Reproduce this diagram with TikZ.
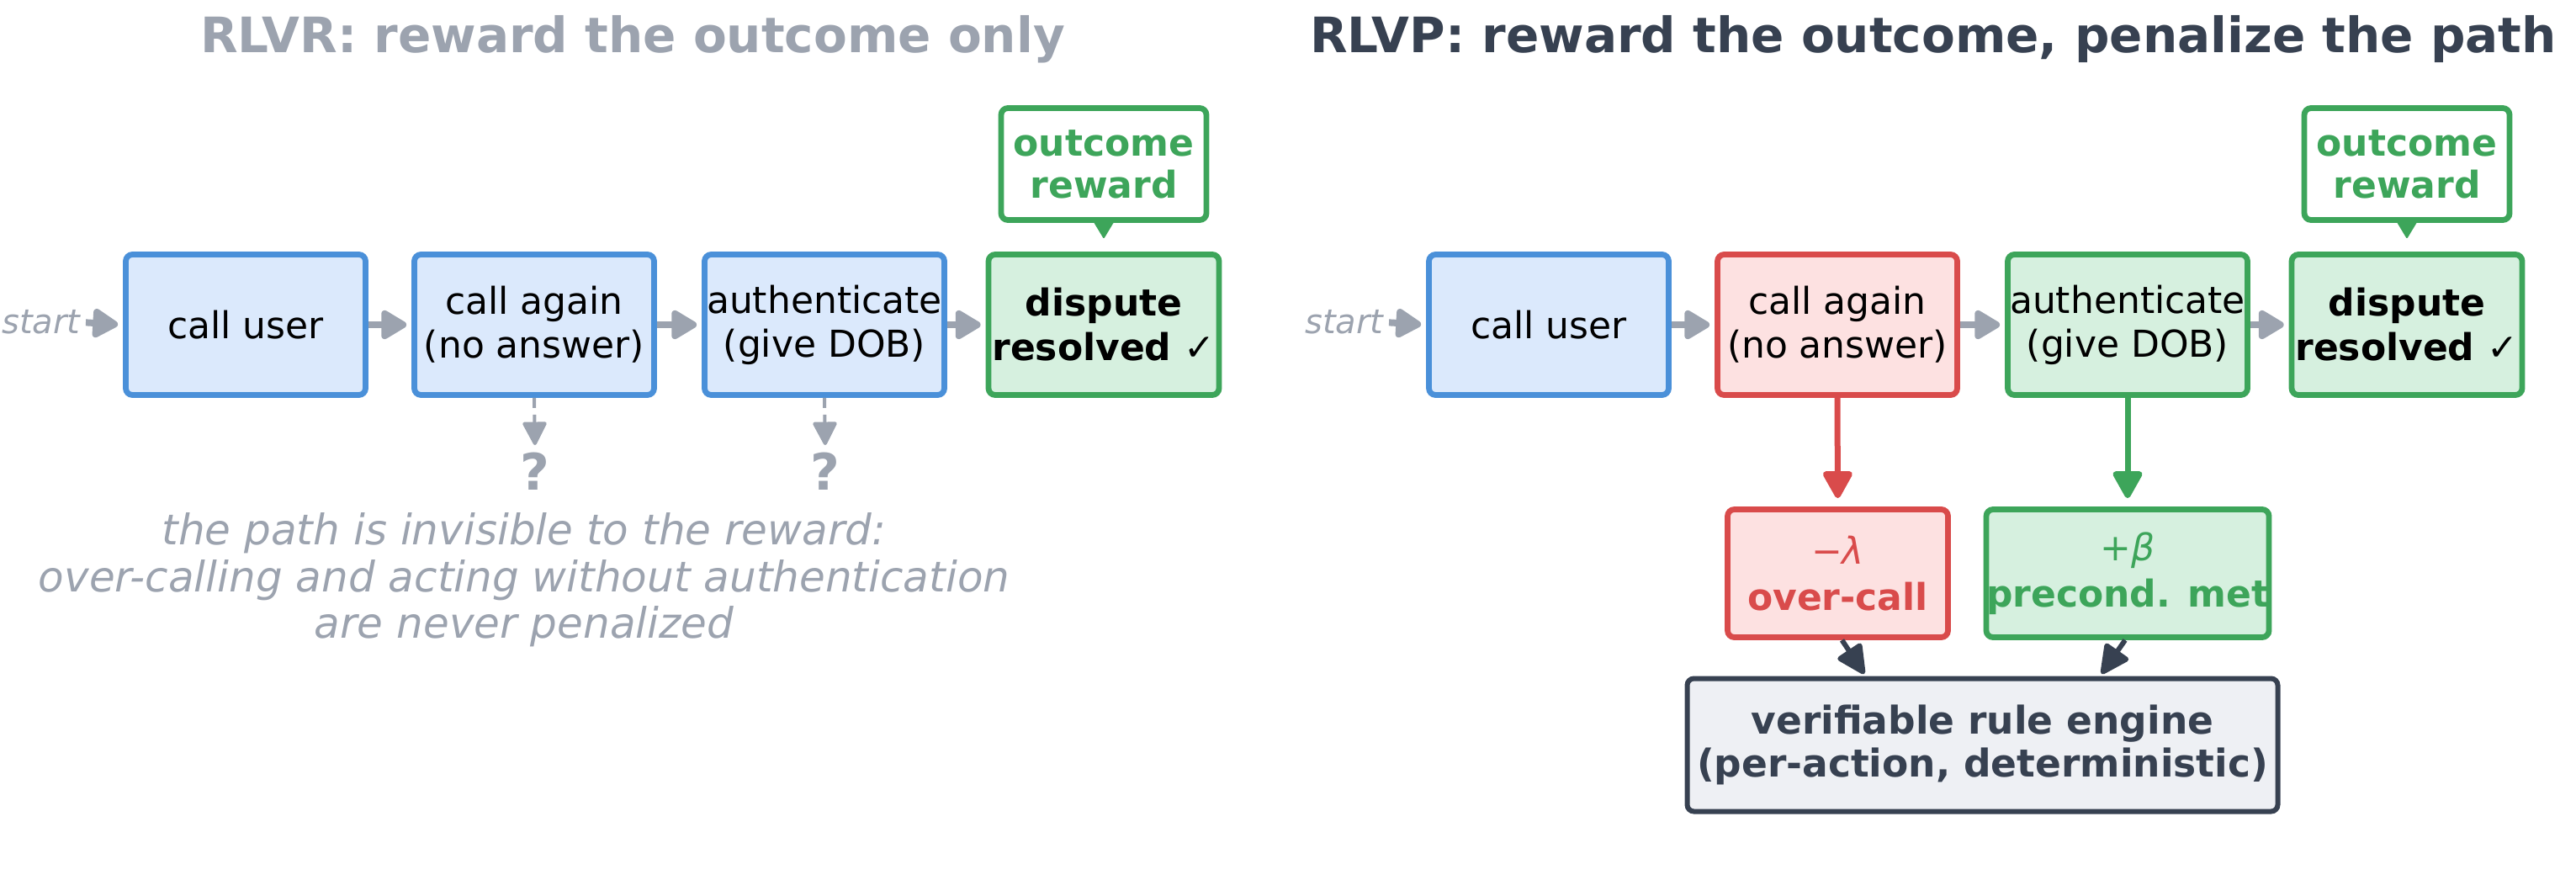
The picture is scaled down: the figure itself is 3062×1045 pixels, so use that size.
\documentclass[tikz,border=0pt]{standalone}
\usepackage{fontspec}
\setmainfont{DejaVu Sans}
\usetikzlibrary{arrows.meta,calc}
\definecolor{cgray}{HTML}{9CA3AF}
\definecolor{cdark}{HTML}{374151}
\definecolor{cblue}{HTML}{4A90D9}
\definecolor{cbluef}{HTML}{DBE9FC}
\definecolor{cgreen}{HTML}{3DA55A}
\definecolor{cgreenf}{HTML}{D6F0DF}
\definecolor{cred}{HTML}{D94B4B}
\definecolor{credf}{HTML}{FDE1E1}
\definecolor{cengf}{HTML}{EEF0F4}
\begin{document}
\begin{tikzpicture}[x=0.5pt,y=-0.5pt,
  box/.style={draw, rounded corners=4pt, line width=3.4pt, inner sep=0pt, align=center,
    minimum width=142.5pt, minimum height=83.5pt, font=\fontsize{22}{26}\selectfont},
  bluebox/.style={box, draw=cblue, fill=cbluef},
  greenbox/.style={box, draw=cgreen, fill=cgreenf},
  redbox/.style={box, draw=cred, fill=credf},
  donebox/.style={greenbox, minimum width=137pt, font=\fontsize{22}{26.5}\selectfont\bfseries},
  rewbox/.style={box, draw=cgreen, fill=white, text=cgreen, minimum width=122pt, minimum height=66.5pt,
    font=\fontsize{22}{25}\selectfont\bfseries},
  titletext/.style={anchor=base, inner sep=0pt, font=\fontsize{29}{34}\selectfont\bfseries},
  starttext/.style={anchor=east, inner sep=0pt, text=cgray, font=\fontsize{20}{24}\selectfont\itshape},
  captext/.style={anchor=base, inner sep=0pt, text=cgray, font=\fontsize{25}{28}\selectfont\itshape},
  qtext/.style={anchor=base, inner sep=0pt, text=cgray, font=\fontsize{30}{34}\selectfont\bfseries},
  garr/.style={draw=cgray, line width=4pt, shorten >=3pt, -{Triangle[round,length=17pt,width=19pt]}},
  dasharr/.style={draw=cgray, line width=2pt, dash pattern=on 6pt off 4pt, shorten >=4pt,
    -{Triangle[round,length=15pt,width=15pt]}},
  pointer/.style={draw=cgreen, line width=1pt, shorten >=8pt, -{Triangle[round,length=11pt,width=13pt]}},
  redarr/.style={draw=cred, line width=3.5pt, shorten >=5pt, -{Triangle[round,length=18pt,width=19pt]}},
  greenarr/.style={draw=cgreen, line width=3.5pt, shorten >=5pt, -{Triangle[round,length=18pt,width=19pt]}},
  darr/.style={draw=cdark, line width=3pt, -{Triangle[round,length=19pt,width=18pt]}},
]
\useasboundingbox (0,0) rectangle (3062,1045);

% ---------- left panel ----------
\node[titletext, text=cgray] (t1) at (752,62) {RLVR: reward the outcome only};
\node[starttext] (s1) at (96,383) {start};
\node[bluebox] (cu1) at (292,386) {call user};
\node[bluebox] (ca1) at (635,386) {call again\\(no answer)};
\node[bluebox] (au1) at (980,386) {authenticate\\(give DOB)};
\node[donebox] (dr1) at (1312,386) {dispute\\resolved {\mdseries ✓}};
\node[rewbox] (or1) at (1312,195) {outcome\\reward};
\draw[garr, shorten <=3pt] (s1.east) -- (cu1.west);
\draw[garr] (cu1.east) -- (ca1.west);
\draw[garr] (ca1.east) -- (au1.west);
\draw[garr] (au1.east) -- (dr1.west);
\draw[pointer] (or1.south) -- (dr1.north);
\node[qtext] (q1) at (636,582) {?};
\node[qtext] (q2) at (981,582) {?};
\draw[dasharr] (ca1.south) -- (q1.north);
\draw[dasharr] (au1.south) -- (q2.north);
\node[captext] (c1) at (623,647) {the path is invisible to the reward:};
\node[captext] (c2) at (623,703) {over-calling and acting without authentication};
\node[captext] (c3) at (623,758) {are never penalized};

% ---------- right panel ----------
\node[titletext, text=cdark] (t2) at (2298,62) {RLVP: reward the outcome, penalize the path};
\node[starttext] (s2) at (1645,383) {start};
\node[bluebox] (cu2) at (1841,386) {call user};
\node[redbox] (ca2) at (2184,386) {call again\\(no answer)};
\node[greenbox] (au2) at (2529,386) {authenticate\\(give DOB)};
\node[donebox] (dr2) at (2861,386) {dispute\\resolved {\mdseries ✓}};
\node[rewbox] (or2) at (2861,195) {outcome\\reward};
\draw[garr, shorten <=3pt] (s2.east) -- (cu2.west);
\draw[garr] (cu2.east) -- (ca2.west);
\draw[garr] (ca2.east) -- (au2.west);
\draw[garr] (au2.east) -- (dr2.west);
\draw[pointer] (or2.south) -- (dr2.north);

\node[box, draw=cred, fill=credf, text=cred, minimum width=131pt, minimum height=76pt,
  font=\fontsize{22}{27.5}\selectfont] (pen) at (2184.5,681.5) {−{\itshape λ}\\\textbf{over-call}};
\node[box, draw=cgreen, fill=cgreenf, text=cgreen, minimum width=164.5pt, minimum height=76pt,
  font=\fontsize{22}{27.5}\selectfont] (bon) at (2529,681.5) {+{\itshape β}\\\textbf{precond. met}};
\node[box, draw=cdark, fill=cengf, text=cdark, minimum width=351pt, minimum height=79pt,
  line width=3pt, font=\fontsize{22.75}{25.5}\selectfont\bfseries] (eng) at (2356.5,885.5)
  {verifiable rule engine\\(per-action, deterministic)};
\draw[redarr] (ca2.south) -- (pen.north);
\draw[greenarr] (au2.south) -- (bon.north);
\coordinate (e1) at (2216,801);
\coordinate (e2) at (2498,801);
\draw[darr] ($(pen.south)+(5,0)$) -- (e1);
\draw[darr] ($(bon.south)+(-3,0)$) -- (e2);
\end{tikzpicture}
\end{document}
